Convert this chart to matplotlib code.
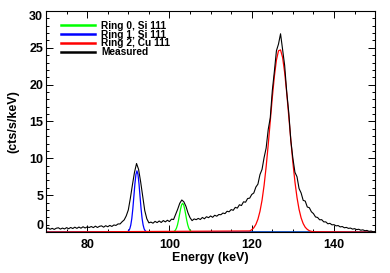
import numpy as np
import matplotlib
matplotlib.use("Agg")
import matplotlib.pyplot as plt

plt.rcParams['font.family'] = ['Liberation Sans', 'DejaVu Sans']
plt.rcParams['font.weight'] = 'bold'

# measured spectrum, 70..150 keV in 0.5 keV steps
energy = np.arange(70.0, 150.01, 0.5)
measured = [
    0.42, 0.55, 0.38, 0.5, 0.36, 0.52, 0.58, 0.4, 0.54, 0.42,
    0.6, 0.45, 0.62, 0.48, 0.66, 0.5, 0.68, 0.52, 0.72, 0.55,
    0.7, 0.62, 0.75, 0.6, 0.8, 0.62, 0.78, 0.84, 0.66, 0.86,
    0.72, 0.9, 0.76, 0.96, 0.9, 1.1, 1.1, 1.4, 1.65, 2.2,
    3.0, 4.6, 6.4, 8.1, 9.3, 8.5, 6.8, 4.8, 2.9, 1.8,
    1.25, 1.35, 1.2, 1.45, 1.28, 1.5, 1.3, 1.56, 1.38, 1.6,
    1.42, 1.75, 1.7, 2.4, 3.1, 3.9, 4.35, 4.1, 3.5, 2.6,
    1.95, 1.55, 1.78, 1.68, 1.85, 1.7, 1.98, 1.8, 2.08, 1.95,
    2.18, 2.0, 2.28, 2.15, 2.38, 2.35, 2.58, 2.5, 2.82, 2.75,
    3.05, 2.95, 3.35, 3.25, 3.7, 3.6, 4.1, 4.05, 4.55, 4.6,
    5.1, 5.3, 6.1, 6.5, 7.8, 8.5, 10.1, 11.4, 13.9, 15.5,
    19.2, 21.8, 24.6, 25.5, 26.9, 24.8, 22.6, 19.0, 16.2, 12.4,
    10.0, 8.1, 7.5, 5.9, 5.3, 4.3, 4.2, 3.4, 3.3, 2.75,
    2.5, 2.05, 1.98, 1.66, 1.68, 1.38, 1.38, 1.12, 1.18, 0.98,
    1.0, 0.84, 0.88, 0.7, 0.75, 0.58, 0.63, 0.5, 0.54, 0.4,
    0.46, 0.33, 0.38, 0.25, 0.3, 0.18, 0.22, 0.1, 0.14, 0.04,
    0.06,
]

# fitted line profiles (zero outside the listed points)
ring0_e = [70.0, 100.7, 100.95, 101.2, 101.45, 101.7, 101.95, 102.2, 102.45, 102.7, 102.95,
           103.2, 103.45, 103.7, 103.95, 104.2, 104.45, 104.7, 104.95, 105.2, 105.45, 105.7, 150.0]
ring0_y = [0.0, 0.01, 0.04, 0.11, 0.26, 0.53, 0.97, 1.6, 2.37, 3.12, 3.69,
           3.9, 3.69, 3.12, 2.37, 1.6, 0.97, 0.53, 0.26, 0.11, 0.04, 0.01, 0.0]

ring1_e = [70.0, 89.6, 89.85, 90.1, 90.35, 90.6, 90.85, 91.1, 91.35, 91.6, 91.85,
           92.1, 92.35, 92.6, 92.85, 93.1, 93.35, 93.6, 93.85, 94.1, 94.35, 94.6, 150.0]
ring1_y = [0.0, 0.02, 0.06, 0.18, 0.43, 0.95, 1.84, 3.17, 4.83, 6.52, 7.81,
           8.3, 7.81, 6.52, 4.83, 3.17, 1.84, 0.95, 0.43, 0.18, 0.06, 0.02, 0.0]

ring2_e = [70.0, 119.5, 120.0, 120.5, 121.0, 121.5, 122.0, 122.5, 123.0, 123.5, 124.0,
           124.5, 125.0, 125.5, 126.0, 126.5, 127.0, 127.5, 128.0, 128.5, 129.0,
           129.5, 130.0, 130.5, 131.0, 131.5, 132.0, 132.5, 133.0, 133.5, 134.0,
           134.5, 135.0, 150.0]
ring2_y = [0.0, 0.15, 0.31, 0.58, 1.03, 1.74, 2.81, 4.31, 6.33, 8.86, 11.82,
           15.04, 18.26, 21.13, 23.34, 24.59, 24.71, 23.68, 21.64, 18.87, 15.69,
           12.45, 9.42, 6.8, 4.68, 3.07, 1.92, 1.15, 0.65, 0.36, 0.18,
           0.09, 0.04, 0.0]

fig = plt.figure(figsize=(3.9, 2.73), dpi=100)
ax = fig.add_axes([0.118, 0.150, 0.844, 0.810])

ax.plot(ring0_e, ring0_y, color='#00ff00', lw=0.9, label='Ring 0, Si 111')
ax.plot(ring1_e, ring1_y, color='#0000ff', lw=0.9, label='Ring 1, Si 111')
ax.plot(ring2_e, ring2_y, color='#ff0000', lw=0.9, label='Ring 2, Cu 111')
ax.plot(energy, measured, color='black', lw=0.8, label='Measured')

ax.set_xlim(70, 150)
ax.set_ylim(0, 30)
ax.set_xticks([80, 100, 120, 140])
ax.set_xticks(np.arange(70, 151, 5), minor=True)
ax.set_yticks([0, 5, 10, 15, 20, 25, 30])
ax.set_yticks(np.arange(0, 31, 1), minor=True)
ax.tick_params(which='both', direction='in', top=True, right=True, width=0.7)
ax.tick_params(which='major', length=5)
ax.tick_params(which='minor', length=2.5)
ax.tick_params(axis='x', which='major', labelsize=9, pad=5)
ax.tick_params(axis='y', which='major', labelsize=9, pad=2)
for s in ax.spines.values():
    s.set_linewidth(0.8)

ax.yaxis.get_major_ticks()[0].label1.set_verticalalignment('bottom')
ax.yaxis.get_major_ticks()[-1].label1.set_verticalalignment('top')

ax.set_xlabel('Energy (keV)', fontsize=9, fontweight='bold', labelpad=1)
ax.set_ylabel('(cts/s/keV)', fontsize=9, fontweight='bold', labelpad=7)

leg = ax.legend(loc='upper left', frameon=False, fontsize=7.3, handlelength=3.4,
                handletextpad=0.6, labelspacing=-0.12, borderaxespad=0.0,
                borderpad=0.0, bbox_to_anchor=(0.045, 0.955))
for ln in leg.get_lines():
    ln.set_linewidth(1.8)

fig.savefig('out.png', dpi=100)
